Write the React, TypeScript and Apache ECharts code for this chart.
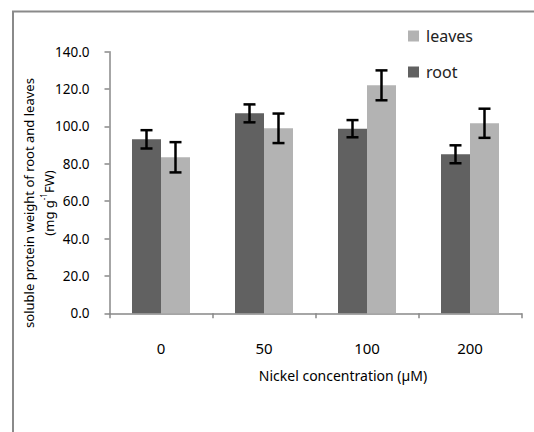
import React, { useEffect, useRef } from "react";
import * as echarts from "echarts";

const categories = ["0", "50", "100", "200"];
const rootValues = [93.1, 107.0, 98.8, 85.1];
const rootErrors = [4.9, 4.8, 4.6, 4.8];
const leavesValues = [83.5, 99.0, 122.0, 101.7];
const leavesErrors = [8.1, 7.9, 8.0, 7.8];
const yTicks = { min: 0, max: 140, interval: 20 };

const FONT = "Noto Sans";
const BAR_W = 29;

function errData(vals: number[], errs: number[]) {
  return vals.map((v, i) => [i, v - errs[i], v + errs[i]]);
}

function errorSeries(name: string, vals: number[], errs: number[], offset: number) {
  return {
    type: "custom",
    name: name + "-err",
    z: 10,
    data: errData(vals, errs),
    encode: { x: 0, y: [1, 2] },
    renderItem: (params: any, api: any) => {
      const idx = api.value(0);
      const lo = api.coord([idx, api.value(1)]);
      const hi = api.coord([idx, api.value(2)]);
      const x = hi[0] + offset;
      const cap = 6;
      const style = { stroke: "#000", lineWidth: 2.5 };
      return {
        type: "group",
        children: [
          { type: "line", shape: { x1: x, y1: hi[1], x2: x, y2: lo[1] }, style },
          { type: "line", shape: { x1: x - cap, y1: hi[1], x2: x + cap, y2: hi[1] }, style },
          { type: "line", shape: { x1: x - cap, y1: lo[1], x2: x + cap, y2: lo[1] }, style },
        ],
      };
    },
  };
}

export default function App() {
  const ref = useRef<HTMLDivElement>(null);
  useEffect(() => {
    document.body.style.margin = "0";
    const chart = echarts.init(ref.current!, null, { renderer: "svg" });
    chart.setOption({
      animation: false,
      backgroundColor: "#fff",
      textStyle: { fontFamily: FONT },
      grid: { left: 109.5, right: 12.5, top: 51.7, bottom: 118.7 },
      legend: {
        data: ["leaves", "root"],
        orient: "vertical",
        left: 408,
        top: 28,
        itemWidth: 11,
        itemHeight: 11,
        itemGap: 20,
        icon: "rect",
        padding: 0,
        textStyle: { fontFamily: FONT, fontSize: 16, color: "#222", padding: [0, 0, 0, 2] },
      },
      xAxis: {
        type: "category",
        data: categories,
        axisLine: { lineStyle: { color: "#888", width: 1.5 } },
        axisTick: { show: true, length: 5, lineStyle: { color: "#888", width: 1.5 } },
        axisLabel: { margin: 27, fontSize: 15, color: "#000", fontFamily: FONT },
      },
      yAxis: {
        type: "value",
        min: yTicks.min,
        max: yTicks.max,
        interval: yTicks.interval,
        splitLine: { show: false },
        axisLine: { show: true, lineStyle: { color: "#888", width: 1.5 } },
        axisTick: { show: true, length: 5, lineStyle: { color: "#888", width: 1.5 } },
        axisLabel: {
          margin: 20,
          fontSize: 13.5,
          color: "#000",
          fontFamily: FONT,
          formatter: (v: number) => v.toFixed(1),
        },
      },
      series: [
        {
          type: "bar",
          name: "root",
          data: rootValues,
          barWidth: BAR_W,
          barGap: "0%",
          itemStyle: { color: "#616161" },
        },
        {
          type: "bar",
          name: "leaves",
          data: leavesValues,
          barWidth: BAR_W,
          barGap: "0%",
          itemStyle: { color: "#b3b3b3" },
        },
        errorSeries("root", rootValues, rootErrors, -BAR_W / 2),
        errorSeries("leaves", leavesValues, leavesErrors, BAR_W / 2),
      ],
      graphic: [
        {
          type: "rect",
          shape: { x: 13, y: 11.5, width: 700, height: 700 },
          style: { fill: "none", stroke: "#8a8a8a", lineWidth: 2 },
          silent: true,
        },
        {
          type: "text",
          x: 343,
          y: 375,
          style: {
            text: "Nickel concentration (µM)",
            fontFamily: FONT,
            fontSize: 14,
            fill: "#000",
            textAlign: "center",
            textVerticalAlign: "middle",
          },
        },
        {
          type: "text",
          x: 29,
          y: 203,
          rotation: Math.PI / 2,
          style: {
            text: "soluble protein weight of root and leaves",
            fontFamily: FONT,
            fontSize: 13,
            fill: "#000",
            textAlign: "center",
            textVerticalAlign: "middle",
          },
        },
        {
          type: "text",
          x: 47,
          y: 203,
          rotation: Math.PI / 2,
          style: {
            text: "{n|(mg g}{s|-1}{n|FW)}",
            fontFamily: FONT,
            fill: "#000",
            textAlign: "center",
            textVerticalAlign: "middle",
            rich: {
              n: { fontSize: 13, fontFamily: FONT, fill: "#000", lineHeight: 16, verticalAlign: "bottom" },
              s: { fontSize: 8, fontFamily: FONT, fill: "#000", lineHeight: 16, verticalAlign: "top" },
            },
          },
        },
      ],
    });
    return () => chart.dispose();
  }, []);
  return <div ref={ref} style={{ width: 534, height: 432 }} />;
}
